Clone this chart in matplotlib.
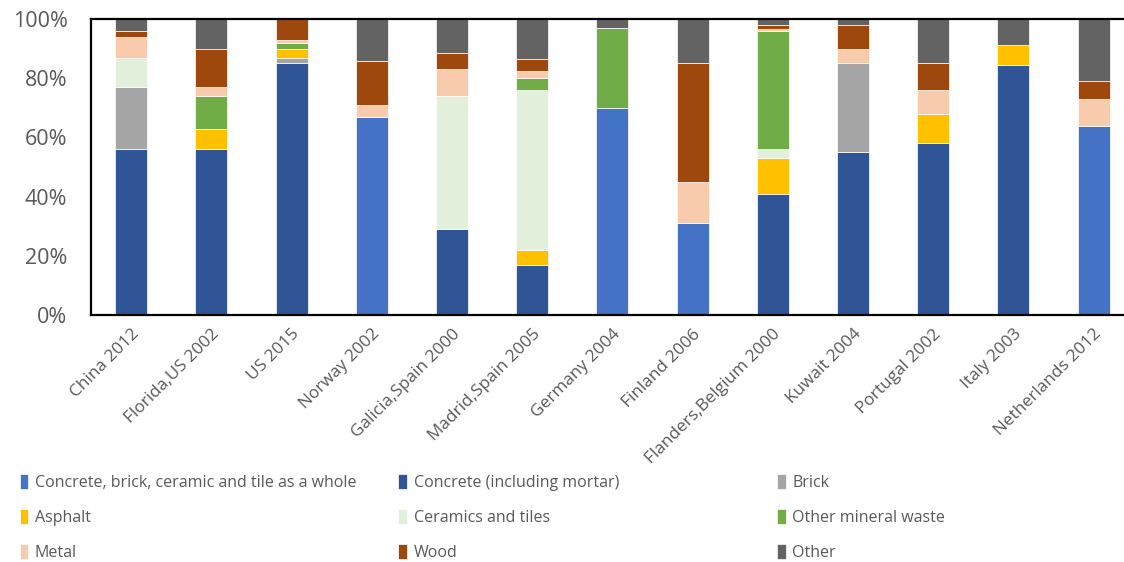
import matplotlib
matplotlib.use("Agg")
import matplotlib.pyplot as plt
import matplotlib.transforms as mtransforms
import numpy as np
from matplotlib.ticker import PercentFormatter

categories = ["China 2012", "Florida,US 2002", "US 2015", "Norway 2002",
              "Galicia,Spain 2000", "Madrid,Spain 2005", "Germany 2004",
              "Finland 2006", "Flanders,Belgium 2000", "Kuwait 2004",
              "Portugal 2002", "Italy 2003", "Netherlands 2012"]

series_names = ["Concrete, brick, ceramic and tile as a whole",
                "Concrete (including mortar)", "Brick", "Asphalt",
                "Ceramics and tiles", "Other mineral waste", "Metal", "Wood", "Other"]

whole     = [0, 0, 0, 67, 0, 0, 70, 31, 0, 0, 0, 0, 64]
concrete  = [56, 56, 85, 0, 29, 17, 0, 0, 41, 55, 58, 84.4, 0]
brick     = [21, 0, 2, 0, 0, 0, 0, 0, 0, 30, 0, 0, 0]
asphalt   = [0, 7, 3, 0, 0, 5, 0, 0, 12, 0, 10, 7, 0]
ceramics  = [10, 0, 0, 0, 45, 54, 0, 0, 3, 0, 0, 0, 0]
other_min = [0, 11, 2, 0, 0, 4, 27, 0, 40, 0, 0, 0, 0]
metal     = [7, 3, 1, 4, 9, 2.6, 0, 14, 0.5, 5, 8, 0, 9]
wood      = [2, 13, 7, 15, 5.5, 4, 0, 40, 1.5, 8, 9, 0, 6]
other     = [4, 10, 0, 14, 11.5, 13.4, 3, 15, 2, 2, 15, 8.6, 21]

series = [whole, concrete, brick, asphalt, ceramics, other_min, metal, wood, other]
colors = ["#4472C4", "#2F5597", "#A5A5A5", "#FFC000", "#E2EFDA",
          "#70AD47", "#F8CBAD", "#9E480E", "#636363"]

plt.rcParams['font.family'] = ['Open Sans', 'DejaVu Sans']

fig = plt.figure(figsize=(11.24, 5.62), dpi=100)
ax = fig.add_axes([0.081, 0.4395, 0.9276, 0.5265])

x = np.arange(len(categories))
bottom = np.zeros(len(categories))
handles = []
for name, vals, col in zip(series_names, series, colors):
    v = np.array(vals, dtype=float)
    b = ax.bar(x, v, 0.4, bottom=bottom, color=col, edgecolor="#ffffff",
               linewidth=0.5, label=name)
    handles.append(b)
    bottom += v

ax.set_xlim(-0.5, len(categories) - 0.5)
ax.set_ylim(0, 100)
ax.set_yticks([0, 20, 40, 60, 80, 100])
ax.yaxis.set_major_formatter(PercentFormatter(decimals=0))
ax.set_xticks(x)
ax.set_xticklabels(categories, rotation=45, ha="right", va="top",
                   rotation_mode="anchor")
offset = mtransforms.ScaledTranslation(3 / 100, -10 / 100, fig.dpi_scale_trans)
for lbl in ax.get_xticklabels():
    lbl.set_transform(lbl.get_transform() + offset)
ax.tick_params(axis="y", length=0, labelsize=15.5, labelcolor="#595959", pad=17)
ax.tick_params(axis="x", length=0, labelsize=12.4, labelcolor="#595959", pad=8)
for s in ["left", "top", "bottom"]:
    ax.spines[s].set_linewidth(1.6)
    ax.spines[s].set_color("black")
ax.spines["right"].set_visible(False)

col_x = [0.0175, 0.3545, 0.6915]
for c in range(3):
    idx = [c, c + 3, c + 6]
    fig.legend([handles[i] for i in idx], [series_names[i] for i in idx],
               loc="upper left", bbox_to_anchor=(col_x[c], 0.157),
               bbox_transform=fig.transFigure, frameon=False, ncol=1,
               fontsize=11.5, handlelength=0.55, handleheight=1.1,
               handletextpad=0.4, labelspacing=1.13, borderpad=0.0,
               borderaxespad=0.0, labelcolor="#595959")

fig.savefig("out.png", dpi=100)
